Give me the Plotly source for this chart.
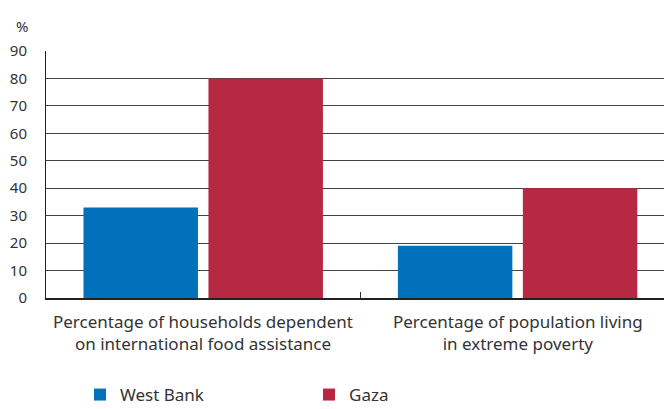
import plotly.graph_objects as go

category_lines = [["Percentage of households dependent", "on international food assistance"],
                  ["Percentage of population living", "in extreme poverty"]]
categories = [" ".join(c) for c in category_lines]
west_bank = [33, 19]
gaza = [80, 40]
y_ticks = [0, 10, 20, 30, 40, 50, 60, 70, 80, 90]

FONT = "Noto Sans, sans-serif"
TXT = "#333333"
fig = go.Figure()
fig.add_trace(go.Bar(name="West Bank", x=categories, y=west_bank, marker=dict(color="#0071BA", line_width=0)))
fig.add_trace(go.Bar(name="Gaza", x=categories, y=gaza, marker=dict(color="#B72942", line_width=0)))

W, H = 664, 409
L, R, T, B = 46, 0, 51, 111
pw = W - L - R
ph = H - T - B
catw = 314.4

annotations = [dict(text="%", xref="paper", yref="paper", x=(30 - L) / pw, y=1 + 25 / ph,
                    showarrow=False, xanchor="right", yanchor="middle",
                    font=dict(size=15, color=TXT))]
for cat, lines in zip(categories, category_lines):
    annotations.append(dict(text="<br>".join(lines), x=cat, xref="x", yref="paper",
                            y=-(34 / ph), showarrow=False,
                            xanchor="center", yanchor="middle", align="center",
                            font=dict(size=17, color=TXT)))

fig.update_layout(
    width=W, height=H,
    margin=dict(l=L, r=R, t=T, b=B, autoexpand=False),
    paper_bgcolor="white", plot_bgcolor="white",
    barmode="group", bargap=0.205, bargroupgap=0.084,
    font=dict(family=FONT, size=15, color=TXT),
    showlegend=True,
    legend=dict(orientation="h", x=(80 - L) / pw, xanchor="left", y=-(79 / ph), yanchor="top",
                entrywidth=184, entrywidthmode="pixels", font=dict(size=17, color=TXT)),
    xaxis=dict(range=[-0.5, -0.5 + pw / catw], showgrid=False, showline=True, linecolor="#222222",
               linewidth=1.5, ticks="inside", ticklen=6, tickcolor="#333333", tickson="boundaries",
               showticklabels=False, zeroline=False, fixedrange=True, automargin=False),
    yaxis=dict(range=[0, 90], tickvals=y_ticks, showgrid=True, gridcolor="#444444", gridwidth=1,
               showline=True, linecolor="#222222", linewidth=1, ticks="", zeroline=False,
               tickfont=dict(size=15, color=TXT), ticklabelstandoff=15, automargin=False,
               fixedrange=True),
    annotations=annotations,
)
fig.write_html("out.html", config={"displayModeBar": False},
               post_script="document.body.style.margin='0';")
